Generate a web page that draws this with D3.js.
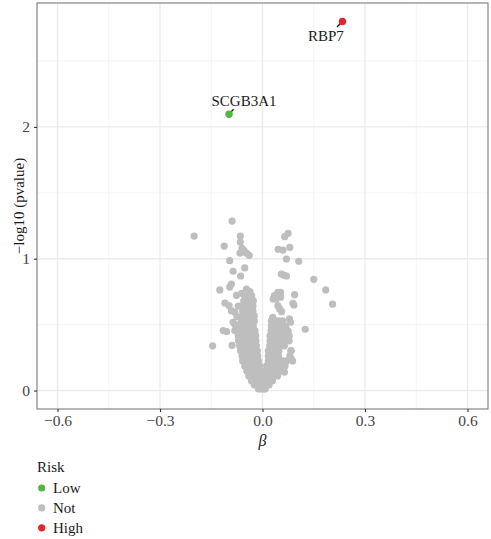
<!DOCTYPE html>
<html>
<head>
<meta charset="utf-8">
<script src="https://cdn.jsdelivr.net/npm/d3@7"></script>
<style>
  body { margin: 0; background: #fff; }
  text { font-family: "Liberation Serif", "DejaVu Serif", serif; }
</style>
</head>
<body>
<svg id="chart" width="491" height="539"></svg>
<script>
// risk groups for the legend
var riskLevels = ["Low", "Not", "High"];
var riskColors = ["#52b640", "#bebebe", "#e3242b"];

// labelled genes
var genes = ["SCGB3A1", "RBP7"];
var geneBeta = [-0.098, 0.234];
var geneLogP = [2.096, 2.80];
var geneRisk = ["Low", "High"];

// scattered "Not" genes [beta, -log10 p]
var scattered = [
  [-0.089, 1.286], [-0.200, 1.172], [-0.065, 1.172], [-0.112, 1.096], [-0.065, 1.127],
  [-0.060, 1.079], [-0.054, 1.061], [-0.066, 1.043], [-0.047, 1.043], [-0.039, 1.026],
  [-0.096, 0.985], [-0.052, 0.930], [-0.086, 0.905], [-0.064, 0.869], [-0.091, 0.808],
  [-0.096, 0.785], [-0.125, 0.763], [-0.047, 0.770], [-0.037, 0.750], [-0.061, 0.738],
  [-0.076, 0.722], [-0.032, 0.720], [-0.110, 0.664], [-0.098, 0.645], [-0.091, 0.606],
  [-0.081, 0.594], [-0.086, 0.518], [-0.115, 0.455], [-0.105, 0.447], [-0.081, 0.455],
  [-0.146, 0.339], [-0.089, 0.343], [-0.071, 0.640], [-0.075, 0.560], [-0.080, 0.500],
  [0.075, 1.192], [0.065, 1.167], [0.046, 1.071], [0.060, 1.066], [0.080, 1.086],
  [0.070, 0.998], [0.106, 0.980], [0.055, 0.884], [0.062, 0.876], [0.070, 0.869],
  [0.150, 0.844], [0.185, 0.763], [0.205, 0.655], [0.094, 0.727], [0.089, 0.662],
  [0.092, 0.649], [0.125, 0.465], [0.079, 0.543], [0.082, 0.518], [0.074, 0.417],
  [0.084, 0.303], [0.084, 0.240], [0.064, 0.139],
  [0.045, 0.745], [0.053, 0.745], [0.035, 0.720], [0.040, 0.695], [0.031, 0.695],
  [0.053, 0.708], [0.045, 0.644], [0.050, 0.619], [0.056, 0.598], [0.030, 0.556]
];

// dense part of the cloud, read row by row: -log10 p and the betas on that row
var leftArm = [
  {p: 0.717, b: [-0.052, -0.042, -0.032]},
  {p: 0.680, b: [-0.055, -0.045, -0.035, -0.027]},
  {p: 0.642, b: [-0.057, -0.047, -0.037, -0.028]},
  {p: 0.604, b: [-0.058, -0.048, -0.038, -0.028]},
  {p: 0.566, b: [-0.060, -0.050, -0.040, -0.031, -0.024]},
  {p: 0.528, b: [-0.062, -0.052, -0.042, -0.033, -0.024]},
  {p: 0.490, b: [-0.066, -0.056, -0.046, -0.036, -0.027]},
  {p: 0.452, b: [-0.073, -0.062, -0.051, -0.041, -0.031, -0.022]},
  {p: 0.414, b: [-0.071, -0.060, -0.049, -0.039, -0.029, -0.020]},
  {p: 0.377, b: [-0.070, -0.059, -0.048, -0.038, -0.028, -0.019]},
  {p: 0.339, b: [-0.067, -0.056, -0.045, -0.035, -0.026, -0.018]},
  {p: 0.301, b: [-0.064, -0.053, -0.043, -0.033, -0.024, -0.015]},
  {p: 0.263, b: [-0.060, -0.050, -0.040, -0.031, -0.022, -0.014]},
  {p: 0.225, b: [-0.058, -0.048, -0.038, -0.029, -0.020, -0.012]},
  {p: 0.187, b: [-0.052, -0.042, -0.033, -0.024, -0.016, -0.009]},
  {p: 0.149, b: [-0.046, -0.037, -0.028, -0.020, -0.012, -0.006]},
  {p: 0.111, b: [-0.040, -0.031, -0.022, -0.014, -0.007, -0.002]},
  {p: 0.073, b: [-0.032, -0.024, -0.016, -0.009, -0.003, 0.002]},
  {p: 0.043, b: [-0.024, -0.016, -0.009, -0.003, 0.002]},
  {p: 0.013, b: [-0.012, -0.006, 0.000, 0.005]}
];
var rightArm = [
  {p: 0.528, b: [0.026, 0.036, 0.047, 0.059]},
  {p: 0.490, b: [0.026, 0.036, 0.046, 0.057, 0.068]},
  {p: 0.452, b: [0.025, 0.035, 0.045, 0.056, 0.067, 0.075]},
  {p: 0.414, b: [0.022, 0.032, 0.043, 0.054, 0.066, 0.078]},
  {p: 0.377, b: [0.022, 0.032, 0.043, 0.054, 0.065, 0.078]},
  {p: 0.339, b: [0.021, 0.031, 0.041, 0.052, 0.064]},
  {p: 0.301, b: [0.017, 0.027, 0.038, 0.048, 0.083]},
  {p: 0.263, b: [0.017, 0.027, 0.037, 0.047, 0.080]},
  {p: 0.225, b: [0.017, 0.027, 0.037, 0.047, 0.058, 0.070, 0.088]},
  {p: 0.187, b: [0.012, 0.022, 0.032, 0.043, 0.054, 0.066]},
  {p: 0.149, b: [0.009, 0.018, 0.028, 0.039, 0.050, 0.062]},
  {p: 0.111, b: [0.006, 0.014, 0.023, 0.033, 0.044]},
  {p: 0.073, b: [0.005, 0.012, 0.020, 0.029]},
  {p: 0.043, b: [0.006, 0.013, 0.019]},
  {p: 0.013, b: [0.008]}
];

var xTicks = [-0.6, -0.3, 0.0, 0.3, 0.6];
var xMinor = [-0.45, -0.15, 0.15, 0.45];
var yTicks = [0, 1, 2];
var yMinor = [0.5, 1.5, 2.5];

var svg = d3.select("#chart");
var pLeft = 37, pRight = 488, pTop = 3, pBottom = 409;

var x = d3.scaleLinear().domain([-0.66, 0.66]).range([pLeft, pRight]);
var y = d3.scaleLinear().domain([-0.14, 2.94]).range([pBottom, pTop]);
var color = d3.scaleOrdinal().domain(riskLevels).range(riskColors);

// collect the gray points
var notPts = scattered.slice();
leftArm.concat(rightArm).forEach(function(row) {
  row.b.forEach(function(b) { notPts.push([b, row.p]); });
});

// grid
var grid = svg.append("g");
grid.selectAll(".xminor").data(xMinor).enter().append("line")
  .attr("x1", d => x(d)).attr("x2", d => x(d)).attr("y1", pTop).attr("y2", pBottom)
  .attr("stroke", "#f2f2f2").attr("stroke-width", 0.8);
grid.selectAll(".yminor").data(yMinor).enter().append("line")
  .attr("y1", d => y(d)).attr("y2", d => y(d)).attr("x1", pLeft).attr("x2", pRight)
  .attr("stroke", "#f2f2f2").attr("stroke-width", 0.8);
grid.selectAll(".xmajor").data(xTicks).enter().append("line")
  .attr("x1", d => x(d)).attr("x2", d => x(d)).attr("y1", pTop).attr("y2", pBottom)
  .attr("stroke", "#ebebeb").attr("stroke-width", 1.3);
grid.selectAll(".ymajor").data(yTicks).enter().append("line")
  .attr("y1", d => y(d)).attr("y2", d => y(d)).attr("x1", pLeft).attr("x2", pRight)
  .attr("stroke", "#ebebeb").attr("stroke-width", 1.3);

// points
svg.append("g").selectAll("circle").data(notPts).enter().append("circle")
  .attr("cx", d => x(d[0])).attr("cy", d => y(d[1])).attr("r", 3.6)
  .attr("fill", color("Not"));

var hits = genes.map(function(g, i) {
  return {gene: g, b: geneBeta[i], p: geneLogP[i], risk: geneRisk[i]};
});

// label placement (pixel offsets from the point)
var labelOff = {SCGB3A1: {tx: 15, ty: -8.5, sx: 4.5, sy: -5}, RBP7: {tx: -16.5, ty: 20, sx: -5.5, sy: 5.5}};

var lab = svg.append("g");
lab.selectAll("line").data(hits).enter().append("line")
  .attr("x1", d => x(d.b)).attr("y1", d => y(d.p))
  .attr("x2", d => x(d.b) + labelOff[d.gene].sx).attr("y2", d => y(d.p) + labelOff[d.gene].sy)
  .attr("stroke", "#111").attr("stroke-width", 1.2);
lab.selectAll("circle").data(hits).enter().append("circle")
  .attr("cx", d => x(d.b)).attr("cy", d => y(d.p)).attr("r", 3.7)
  .attr("fill", d => color(d.risk));
lab.selectAll("text").data(hits).enter().append("text")
  .attr("x", d => x(d.b) + labelOff[d.gene].tx).attr("y", d => y(d.p) + labelOff[d.gene].ty)
  .attr("text-anchor", "middle").attr("font-size", 15).attr("fill", "#1a1a1a")
  .text(d => d.gene);

// panel border
svg.append("rect").attr("x", pLeft).attr("y", pTop)
  .attr("width", pRight - pLeft).attr("height", pBottom - pTop)
  .attr("fill", "none").attr("stroke", "#7a7a7a").attr("stroke-width", 1.1);

// axes
var fmtX = v => v === 0 ? "0.0" : d3.format(".1f")(v).replace("-", "\u2212");
var xAxis = svg.append("g").attr("transform", "translate(0," + pBottom + ")")
  .call(d3.axisBottom(x).tickValues(xTicks).tickSize(3).tickPadding(3).tickFormat(fmtX));
var yAxis = svg.append("g").attr("transform", "translate(" + pLeft + ",0)")
  .call(d3.axisLeft(y).tickValues(yTicks).tickSize(3).tickPadding(4).tickFormat(d3.format("d")));
[xAxis, yAxis].forEach(function(a) {
  a.select(".domain").remove();
  a.selectAll(".tick line").attr("stroke", "#333").attr("stroke-width", 1.1);
  a.selectAll(".tick text").attr("font-family", "Liberation Serif")
    .attr("font-size", 15.5).attr("fill", "#444");
});

// axis titles
svg.append("text").attr("x", x(0)).attr("y", 446)
  .attr("text-anchor", "middle").attr("font-size", 16).attr("font-style", "italic")
  .attr("fill", "#1a1a1a").text("\u03b2");
svg.append("text")
  .attr("transform", "translate(24," + ((pTop + pBottom) / 2) + ") rotate(-90)")
  .attr("text-anchor", "middle").attr("font-size", 15).attr("fill", "#1a1a1a")
  .text("\u2212log10 (pvalue)");

// legend
var leg = svg.append("g");
leg.append("text").attr("x", 37).attr("y", 471.5).attr("font-size", 15)
  .attr("fill", "#1a1a1a").text("Risk");
var items = leg.selectAll(".item").data(riskLevels).enter().append("g")
  .attr("transform", (d, i) => "translate(0," + (488 + i * 19.9) + ")");
items.append("circle").attr("cx", 41.7).attr("cy", 0).attr("r", 3.6).attr("fill", d => color(d));
items.append("text").attr("x", 53).attr("y", 5).attr("font-size", 15)
  .attr("fill", "#1a1a1a").text(d => d);
</script>
</body>
</html>
